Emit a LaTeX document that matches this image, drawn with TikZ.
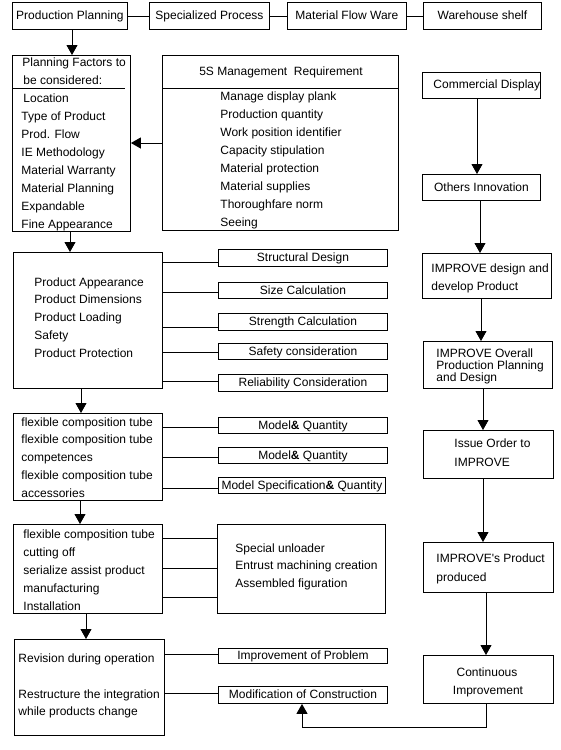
\documentclass[tikz,border=0pt]{standalone}
\usepackage{fontspec}
\setmainfont{Liberation Sans}[Ligatures=TeXOff]
\usetikzlibrary{arrows.meta}
\newcommand\mybox[6]{\node[box,minimum width={(#4-#2)*1pt},minimum height={(#5-#3)*1pt}] (#1) at (#2,#3) {#6};}
\newcommand\tx[4]{\node[txt] (#1) at (#2,{#3+4}) {#4};}
\begin{document}
\begin{tikzpicture}[x=1pt,y=-1pt,
  font=\fontsize{12}{14}\selectfont,
  line width=0.9pt,
  box/.style={draw,inner sep=0pt,anchor=north west,text height=8.6pt,text depth=0.6pt},
  txt/.style={anchor=base west,inner sep=0pt},
  ctxt/.style={anchor=base,inner sep=0pt},
  arr/.style={-{Triangle[width=11pt,length=10pt]}}]
\useasboundingbox[fill=white] (0,0) rectangle (560,750);

% top row
\mybox{pp}{12}{2}{127}{29}{Production Planning}
\mybox{sp}{149}{2}{269}{29}{Specialized Process}
\mybox{mf}{287}{2}{406}{29}{Material Flow Ware}
\mybox{ws}{423}{2}{541}{29}{Warehouse shelf}
\draw (pp) -- (sp);
\draw (sp) -- (mf);
\draw (mf) -- (ws);

% planning factors
\mybox{pf}{12}{55}{130}{231}{}
\draw[arr] (pp.south -| 72,0) -- (pf.north -| 72,0);
\tx{pfa}{22}{62}{Planning Factors to}
\tx{pfb}{23}{80}{be considered:}
\draw (pf.west |- 0,88) -- ++(113,0);
\tx{pfc}{23}{98}{Location}
\foreach \t [count=\i from 0] in {Type of Product, Prod. Flow, IE Methodology, Material Warranty, Material Planning, Expandable, Fine Appearance}
  \node[txt] (pft\i) at (21,{116+18*\i+4}) {\t};

% 5S
\mybox{s5}{162}{55}{398}{230}{}
\node[ctxt] (s5h) at (281,75) {5S Management\ \ Requirement};
\draw (s5.west |- 0,88) -- (s5.east |- 0,88);
\foreach \t [count=\i from 0] in {Manage display plank, Production quantity, Work position identifier, Capacity stipulation, Material protection, Material supplies, Thoroughfare norm, Seeing}
  \node[txt] (s5t\i) at (220,{96+18*\i+4}) {\t};
\draw[arr] (s5.west |- 0,143) -- (pf.east |- 0,143);

% product block
\mybox{prod}{13}{252}{162}{388}{}
\draw[arr] (pf.south -| 70,0) -- (prod.north -| 70,0);
\foreach \t [count=\i from 0] in {Product Appearance, Product Dimensions, Product Loading, Safety, Product Protection}
  \node[txt] (prt\i) at (34,{282+17.75*\i+4}) {\t};
\mybox{sd}{218}{249}{387}{266}{Structural Design}
\mybox{sc}{218}{282}{387}{298}{Size Calculation}
\mybox{stc}{218}{313}{387}{330}{Strength Calculation}
\mybox{saf}{218}{343}{387}{359}{Safety consideration}
\mybox{rel}{218}{374}{387}{391}{Reliability Consideration}
\foreach \n/\y in {sd/262, sc/292, stc/327, saf/352, rel/381}
  \draw (prod.east |- 0,\y) -- (\n.west |- 0,\y);

% flexible tube block
\mybox{flex}{13}{413}{162}{500}{}
\draw[arr] (prod.south -| 81,0) -- (flex.north -| 81,0);
\foreach \t [count=\i from 0] in {flexible composition tube, flexible composition tube, competences, flexible composition tube, accessories}
  \node[txt] (flt\i) at (21,{422+17.75*\i+4}) {\t};
\mybox{mqa}{218}{417}{387}{433}{Model\textbf{\&} Quantity}
\mybox{mqb}{218}{447}{387}{463}{Model\textbf{\&} Quantity}
\mybox{ms}{218}{477}{385}{493}{Model Specification\textbf{\&} Quantity}
\foreach \n/\y in {mqa/427, mqb/457, ms/488}
  \draw (flex.east |- 0,\y) -- (\n.west |- 0,\y);

% cutting block
\mybox{cut}{13}{524}{162}{613}{}
\draw[arr] (flex.south -| 80,0) -- (cut.north -| 80,0);
\foreach \t [count=\i from 0] in {flexible composition tube, cutting off, serialize assist product, manufacturing, Installation}
  \node[txt] (cut\i) at (23,{534+18*\i+4}) {\t};
\mybox{spec}{217}{524}{385}{613}{}
\foreach \t [count=\i from 0] in {Special unloader, Entrust machining creation, Assembled figuration}
  \node[txt] (spt\i) at (235,{548+17.5*\i+4}) {\t};
\foreach \y in {538, 568, 597}
  \draw (cut.east |- 0,\y) -- (spec.west |- 0,\y);

% revision block
\mybox{rev}{14}{639}{164}{735}{}
\draw[arr] (cut.south -| 86,0) -- (rev.north -| 86,0);
\tx{rva}{18}{658}{Revision during operation}
\tx{rvb}{18}{694}{Restructure the integration}
\tx{rvc}{18}{711}{while products change}
\mybox{ip}{218}{648}{387}{663}{Improvement of Problem}
\mybox{mc}{218}{686}{387}{703}{Modification of Construction}
\draw (rev.east |- 0,654) -- (ip.west |- 0,654);
\draw (rev.east |- 0,693) -- (mc.west |- 0,693);

% right column
\mybox{cd}{422}{72}{540}{98}{}
\tx{cdt}{433}{84}{Commercial Display}
\mybox{oi}{422}{174}{540}{200}{Others Innovation}
\draw[arr] (cd.south -| 477,0) -- (oi.north -| 477,0);
\mybox{idp}{422}{253}{551}{298}{}
\tx{idpa}{431}{268}{IMPROVE design and}
\tx{idpb}{431}{286}{develop Product}
\draw[arr] (oi.south -| 480,0) -- (idp.north -| 480,0);
\mybox{iop}{423}{341}{552}{388}{}
\tx{iopa}{436}{353}{IMPROVE Overall}
\tx{iopb}{436}{365}{Production Planning}
\tx{iopc}{436}{377}{and Design}
\draw[arr] (idp.south -| 481,0) -- (iop.north -| 481,0);
\mybox{io}{423}{430}{553}{478}{}
\tx{ioa}{454}{443}{Issue Order to}
\tx{iob}{454}{462}{IMPROVE}
\draw[arr] (iop.south -| 483,0) -- (io.north -| 483,0);
\mybox{ipp}{423}{542}{553}{592}{}
\tx{ippa}{436}{558}{IMPROVE's Product}
\tx{ippb}{436}{577}{produced}
\draw[arr] (io.south -| 483,0) -- (ipp.north -| 483,0);
\mybox{ci}{423}{655}{553}{703}{}
\node[ctxt] (cia) at (487,676) {Continuous};
\node[ctxt] (cib) at (488,694) {Improvement};
\draw[arr] (ipp.south -| 486,0) -- (ci.north -| 486,0);

% feedback
\draw[arr] (ci.south -| 486,0) -- ++(0,24) -| (mc.south -| 302,0);
\end{tikzpicture}
\end{document}
